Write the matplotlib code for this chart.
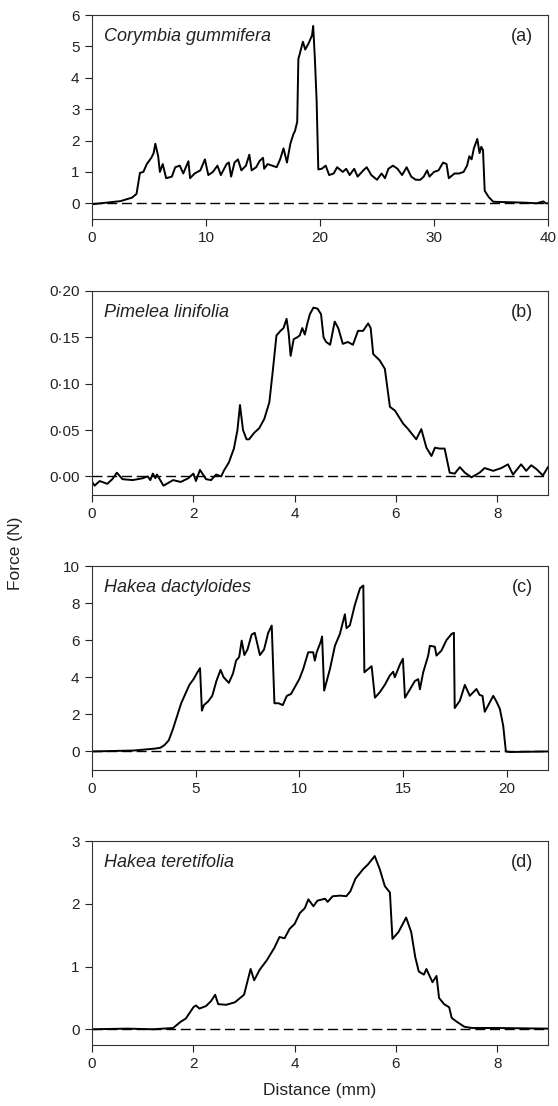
import matplotlib
matplotlib.use("Agg")
from matplotlib import pyplot as plt
from matplotlib.ticker import FuncFormatter

plt.rcParams['font.family'] = ['Liberation Sans', 'DejaVu Sans']

# readings as (distance mm, force N)
# (a) Corymbia gummifera
a_pts = [(0, -0.03), (1.5, 0.03), (2.5, 0.07), (3.5, 0.18), (3.9, 0.3), (4.2, 0.97), (4.5, 1.0),
         (4.8, 1.25), (5.0, 1.35), (5.2, 1.45), (5.4, 1.6), (5.55, 1.9), (5.8, 1.5), (5.95, 1.0),
         (6.2, 1.25), (6.5, 0.8), (7.0, 0.85), (7.3, 1.15), (7.7, 1.2), (8.0, 0.95), (8.45, 1.34),
         (8.6, 0.8), (9.0, 0.95), (9.5, 1.05), (9.9, 1.4), (10.2, 0.9), (10.6, 1.0), (11.0, 1.2),
         (11.3, 0.9), (11.8, 1.25), (12.0, 1.3), (12.2, 0.85), (12.5, 1.3), (12.8, 1.4),
         (13.1, 1.05), (13.5, 1.2), (13.8, 1.55), (14.0, 1.05), (14.4, 1.15), (14.7, 1.35),
         (15.0, 1.45), (15.1, 1.1), (15.4, 1.25), (15.8, 1.2), (16.2, 1.15), (16.5, 1.4),
         (16.8, 1.75), (17.1, 1.3), (17.4, 1.9), (17.66, 2.2), (17.8, 2.3), (18.0, 2.6),
         (18.1, 4.6), (18.25, 4.8), (18.5, 5.15), (18.7, 4.9), (19.0, 5.1), (19.3, 5.35),
         (19.4, 5.65), (19.55, 4.6), (19.7, 3.3), (19.85, 1.08), (20.15, 1.1), (20.5, 1.2),
         (20.8, 0.9), (21.2, 0.95), (21.5, 1.15), (22.0, 1.0), (22.3, 1.1), (22.6, 0.9),
         (23.0, 1.1), (23.3, 0.85), (23.8, 1.05), (24.1, 1.15), (24.5, 0.9), (25.0, 0.75),
         (25.4, 0.95), (25.7, 0.8), (26.0, 1.1), (26.4, 1.2), (26.8, 1.1), (27.2, 0.9),
         (27.6, 1.15), (28.0, 0.85), (28.4, 0.75), (28.8, 0.75), (29.1, 0.85), (29.4, 1.05),
         (29.6, 0.85), (30.0, 1.0), (30.4, 1.05), (30.8, 1.3), (31.1, 1.25), (31.3, 0.8),
         (31.8, 0.95), (32.2, 0.95), (32.6, 1.0), (32.9, 1.2), (33.1, 1.5), (33.3, 1.4),
         (33.5, 1.75), (33.8, 2.05), (34.0, 1.6), (34.15, 1.8), (34.3, 1.7), (34.45, 0.4),
         (34.8, 0.2), (35.2, 0.05), (36.0, 0.04), (38.0, 0.02), (39.0, 0.0), (39.6, 0.06),
         (39.8, 0.0), (40.0, 0.0)]

# (b) Pimelea linifolia
b_pts = [(0, -0.006), (0.05, -0.01), (0.15, -0.005), (0.3, -0.008), (0.4, -0.003), (0.49, 0.004),
         (0.6, -0.003), (0.8, -0.004), (1.0, -0.002), (1.1, 0.0), (1.15, -0.004), (1.2, 0.003),
         (1.25, -0.002), (1.28, 0.002), (1.41, -0.01), (1.6, -0.004), (1.75, -0.006),
         (1.9, -0.002), (2.0, 0.003), (2.05, -0.005), (2.13, 0.007), (2.25, -0.003),
         (2.35, -0.004), (2.45, 0.002), (2.55, 0.0), (2.6, 0.006), (2.7, 0.015), (2.8, 0.03),
         (2.87, 0.05), (2.92, 0.077), (2.98, 0.05), (3.05, 0.04), (3.1, 0.04), (3.2, 0.047),
         (3.3, 0.052), (3.4, 0.062), (3.5, 0.08), (3.57, 0.115), (3.64, 0.152), (3.72, 0.157),
         (3.78, 0.16), (3.84, 0.17), (3.88, 0.155), (3.92, 0.13), (3.98, 0.148), (4.05, 0.15),
         (4.1, 0.152), (4.15, 0.16), (4.2, 0.153), (4.25, 0.165), (4.3, 0.175), (4.37, 0.182),
         (4.45, 0.181), (4.52, 0.175), (4.57, 0.15), (4.62, 0.145), (4.7, 0.142), (4.79, 0.167),
         (4.86, 0.16), (4.95, 0.143), (5.05, 0.145), (5.15, 0.142), (5.25, 0.157), (5.35, 0.157),
         (5.45, 0.165), (5.5, 0.16), (5.55, 0.132), (5.68, 0.125), (5.78, 0.116), (5.88, 0.075),
         (5.98, 0.071), (6.14, 0.057), (6.24, 0.051), (6.4, 0.04), (6.5, 0.051), (6.6, 0.031),
         (6.7, 0.022), (6.77, 0.031), (6.86, 0.03), (6.96, 0.03), (7.06, 0.004), (7.16, 0.003),
         (7.26, 0.01), (7.36, 0.004), (7.49, -0.001), (7.65, 0.004), (7.75, 0.009),
         (7.92, 0.006), (8.08, 0.009), (8.21, 0.013), (8.31, 0.002), (8.47, 0.013),
         (8.57, 0.006), (8.67, 0.012), (8.77, 0.008), (8.9, 0.001), (9.0, 0.01)]

# (c) Hakea dactyloides
c_pts = [(0, 0.0), (2.0, 0.05), (3.0, 0.15), (3.3, 0.2), (3.5, 0.35), (3.7, 0.6), (3.9, 1.2),
         (4.1, 1.9), (4.3, 2.6), (4.5, 3.1), (4.7, 3.6), (4.9, 3.9), (5.1, 4.3), (5.21, 4.49),
         (5.3, 2.2), (5.4, 2.5), (5.6, 2.7), (5.8, 3.0), (6.0, 3.8), (6.2, 4.4), (6.35, 4.0),
         (6.6, 3.7), (6.8, 4.2), (6.95, 4.9), (7.1, 5.1), (7.22, 5.98), (7.35, 5.2), (7.5, 5.5),
         (7.7, 6.3), (7.85, 6.4), (8.1, 5.2), (8.3, 5.5), (8.5, 6.4), (8.67, 6.79), (8.8, 2.6),
         (9.0, 2.6), (9.2, 2.5), (9.4, 3.0), (9.6, 3.1), (9.8, 3.5), (10.0, 3.9), (10.19, 4.45),
         (10.43, 5.35), (10.67, 5.35), (10.75, 4.9), (10.84, 5.35), (11.03, 5.9), (11.1, 6.2),
         (11.2, 3.28), (11.48, 4.45), (11.72, 5.7), (11.96, 6.34), (12.2, 7.4), (12.28, 6.65),
         (12.44, 6.8), (12.68, 7.9), (12.93, 8.8), (13.09, 8.95), (13.14, 4.27), (13.33, 4.45),
         (13.49, 4.6), (13.65, 2.9), (13.89, 3.2), (14.13, 3.6), (14.37, 4.1), (14.53, 4.3),
         (14.61, 4.0), (14.86, 4.7), (15.0, 5.0), (15.1, 2.9), (15.34, 3.35), (15.58, 3.8),
         (15.74, 3.9), (15.82, 3.35), (15.98, 4.27), (16.22, 5.17), (16.3, 5.7), (16.54, 5.65),
         (16.62, 5.17), (16.86, 5.44), (17.1, 6.0), (17.35, 6.34), (17.46, 6.4), (17.5, 2.34),
         (17.75, 2.74), (17.99, 3.59), (18.23, 3.0), (18.55, 3.37), (18.7, 3.05), (18.84, 3.0),
         (18.95, 2.14), (19.36, 3.0), (19.52, 2.68), (19.68, 2.29), (19.84, 1.39), (19.97, 0.0),
         (20.16, -0.03), (22.0, 0.0)]

# (d) Hakea teretifolia
d_pts = [(0, 0.0), (0.7, 0.01), (1.2, 0.0), (1.6, 0.02), (1.75, 0.12), (1.85, 0.17), (2.0, 0.35),
         (2.05, 0.38), (2.12, 0.33), (2.25, 0.37), (2.35, 0.45), (2.43, 0.55), (2.49, 0.4),
         (2.65, 0.39), (2.82, 0.43), (3.0, 0.55), (3.13, 0.96), (3.2, 0.78), (3.31, 0.95),
         (3.45, 1.1), (3.6, 1.3), (3.7, 1.47), (3.8, 1.45), (3.9, 1.6), (4.0, 1.68), (4.1, 1.85),
         (4.2, 1.93), (4.27, 2.07), (4.37, 1.96), (4.45, 2.05), (4.6, 2.08), (4.65, 2.03),
         (4.75, 2.12), (4.9, 2.13), (5.02, 2.12), (5.1, 2.2), (5.2, 2.4), (5.35, 2.55),
         (5.45, 2.63), (5.58, 2.76), (5.68, 2.55), (5.78, 2.28), (5.88, 2.18), (5.93, 1.44),
         (6.05, 1.55), (6.2, 1.78), (6.3, 1.55), (6.38, 1.15), (6.45, 0.92), (6.55, 0.87),
         (6.6, 0.96), (6.72, 0.75), (6.8, 0.85), (6.85, 0.5), (6.95, 0.4), (7.05, 0.35),
         (7.1, 0.18), (7.2, 0.12), (7.35, 0.04), (7.5, 0.02), (8.0, 0.02), (9.0, 0.01)]

names = ["Corymbia gummifera", "Pimelea linifolia", "Hakea dactyloides", "Hakea teretifolia"]
tags = ["(a)", "(b)", "(c)", "(d)"]
xlims = [(0, 40), (0, 9), (0, 22), (0, 9)]
xticks = [range(0, 41, 10), range(0, 9, 2), range(0, 21, 5), range(0, 9, 2)]
ylims = [(-0.5, 6), (-0.02, 0.2), (-1, 10), (-0.25, 3)]
yticks = [range(0, 7), [0, 0.05, 0.10, 0.15, 0.20], range(0, 11, 2), range(0, 4)]


def dot_fmt(v, pos):
    # journal style decimal point
    return f"{v:.2f}".replace(".", "\u00b7")


fig = plt.figure(figsize=(5.58, 11.06), dpi=100)
tops = [0.9864, 0.7369, 0.4882, 0.2396]
h = 0.1844
for i, pts in enumerate([a_pts, b_pts, c_pts, d_pts]):
    xs, ys = zip(*pts)
    ax = fig.add_axes([0.165, tops[i] - h, 0.817, h])
    ax.plot(xs, ys, color="black", lw=1.4)
    ax.axhline(0, color="black", lw=1.0, ls=(0, (7.2, 3.4)))
    ax.set_xlim(*xlims[i])
    ax.set_ylim(*ylims[i])
    ax.set_xticks(list(xticks[i]))
    ax.set_yticks(list(yticks[i]))
    if i == 1:
        ax.yaxis.set_major_formatter(FuncFormatter(dot_fmt))
    ax.tick_params(direction="out", length=5, width=0.8, pad=4, labelsize=11, colors="#222222")
    for s in ax.spines.values():
        s.set_linewidth(0.8)
        s.set_color("#333333")
    ax.text(0.026, 0.895, names[i], transform=ax.transAxes, style="italic", fontsize=13,
            va="center", ha="left", color="#222222")
    ax.text(0.967, 0.895, tags[i], transform=ax.transAxes, fontsize=13,
            va="center", ha="right", color="#222222")

fig.text(0.027, 0.5, "Force (N)", rotation=90, va="center", ha="center", fontsize=12.5, color="#222222")
fig.text(0.573, 0.007, "Distance (mm)", va="bottom", ha="center", fontsize=12.5, color="#222222")

fig.savefig("out.png", dpi=100)
